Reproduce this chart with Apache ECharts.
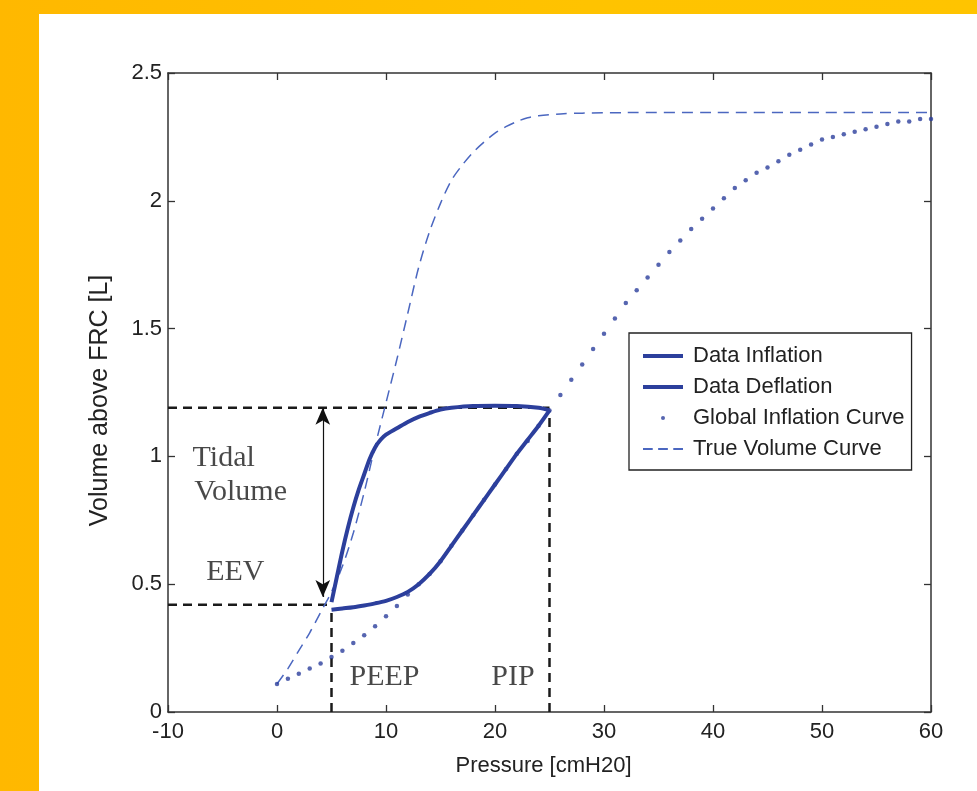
<!DOCTYPE html>
<html>
<head>
<meta charset="utf-8">
<script src="https://cdn.jsdelivr.net/npm/echarts@6/dist/echarts.min.js"></script>
<style>
  html, body { margin: 0; padding: 0; }
  #chart { width: 977px; height: 791px; background: linear-gradient(90deg, #FFB800 0%, #FFC300 60%, #FFC400 100%); }
</style>
</head>
<body>
<div id="chart"></div>
<script>
// ---------- data ----------
const xTickValues = [-10, 0, 10, 20, 30, 40, 50, 60];
const yTickValues = [0, 0.5, 1, 1.5, 2, 2.5];

// Data Inflation (lower limb of the loop, PEEP -> PIP)
const dataInflation = [
  [5, 0.40], [6, 0.405], [7, 0.41], [8, 0.417], [9, 0.425], [10, 0.435], [11, 0.45],
  [12, 0.47], [13, 0.50], [14, 0.54], [15, 0.59], [16, 0.65], [17, 0.71], [18, 0.77],
  [19, 0.83], [20, 0.89], [21, 0.95], [22, 1.01], [23, 1.065], [24, 1.12], [25, 1.18]
];

// Data Deflation (upper limb of the loop, PIP -> PEEP)
const dataDeflation = [
  [25, 1.18], [24, 1.19], [22, 1.197], [20, 1.198], [18, 1.197], [16, 1.19], [15, 1.183],
  [14, 1.17], [13, 1.155], [12, 1.135], [11, 1.11], [10, 1.085], [9.5, 1.065], [9, 1.035],
  [8.5, 0.99], [8, 0.93], [7.5, 0.87], [7, 0.80], [6.5, 0.72], [6, 0.63], [5.5, 0.53], [5, 0.43]
];

// Global Inflation Curve (dots every 1 cmH2O)
const globalInflation = [
  [0, 0.11], [1, 0.13], [2, 0.15], [3, 0.17], [4, 0.19], [5, 0.215], [6, 0.24], [7, 0.27],
  [8, 0.30], [9, 0.335], [10, 0.375], [11, 0.415], [12, 0.46], [13, 0.50], [14, 0.54],
  [15, 0.59], [16, 0.65], [17, 0.71], [18, 0.77], [19, 0.83], [20, 0.89], [21, 0.95],
  [22, 1.01], [23, 1.06], [24, 1.12], [25, 1.18], [26, 1.24], [27, 1.30], [28, 1.36],
  [29, 1.42], [30, 1.48], [31, 1.54], [32, 1.60], [33, 1.65], [34, 1.70], [35, 1.75],
  [36, 1.80], [37, 1.845], [38, 1.89], [39, 1.93], [40, 1.97], [41, 2.01], [42, 2.05],
  [43, 2.08], [44, 2.11], [45, 2.13], [46, 2.155], [47, 2.18], [48, 2.20], [49, 2.22],
  [50, 2.24], [51, 2.25], [52, 2.26], [53, 2.27], [54, 2.28], [55, 2.29], [56, 2.30],
  [57, 2.31], [58, 2.31], [59, 2.32], [60, 2.32]
];

// True Volume Curve (dashed)
const trueVolume = [
  [0, 0.11], [1, 0.17], [2, 0.24], [3, 0.31], [4, 0.39], [5, 0.47], [6, 0.57], [7, 0.70],
  [8, 0.86], [9, 1.04], [10, 1.21], [11, 1.38], [12, 1.56], [13, 1.74], [14, 1.88],
  [15, 1.99], [16, 2.08], [17, 2.14], [18, 2.19], [19, 2.23], [20, 2.265], [21, 2.29],
  [22, 2.31], [23, 2.325], [24, 2.333], [26, 2.34], [28, 2.343], [32, 2.345], [40, 2.345],
  [50, 2.345], [60, 2.345]
];

// Annotation values
const PEEP = 5, PIP = 25, EEV = 0.42, VMAX = 1.19, PEEP_LINE_TOP = 0.40, PIP_LINE_TOP = 1.18;
const arrowX = 4.2, arrowBottom = 0.45, arrowTop = 1.19;
const textLabels = [
  { name: 'Tidal',  value: [-7.7, 0.99] },
  { name: 'Volume', value: [-7.55, 0.86] },
  { name: 'EEV',    value: [-6.45, 0.545] },
  { name: 'PEEP',   value: [6.7, 0.135] },
  { name: 'PIP',    value: [19.7, 0.135] }
];
const seriesNames = ['Data Inflation', 'Data Deflation', 'Global Inflation Curve', 'True Volume Curve'];

// ---------- chart ----------
const solidBlue = '#2c3f9c';
const dashBlue = '#4b67c0';
const axisColor = '#333333';
const sans = '"Liberation Sans", Arial, Helvetica, sans-serif';
const serif = '"Liberation Serif", "Times New Roman", serif';

const chart = echarts.init(document.getElementById('chart'), null, { renderer: 'canvas' });

const axisCommon = {
  type: 'value',
  splitLine: { show: false },
  axisLine: { show: true, onZero: false, lineStyle: { color: axisColor, width: 1.5 } },
  axisTick: { show: true, inside: true, length: 7, lineStyle: { color: axisColor, width: 1.3 } }
};

const option = {
  backgroundColor: 'transparent',
  animation: false,
  graphic: {
    elements: [
      { type: 'rect', z: -100, silent: true, shape: { x: 39, y: 14, width: 938, height: 777 }, style: { fill: '#ffffff' } }
    ]
  },
  grid: { left: 168, right: 46, top: 73, bottom: 79, containLabel: false },
  xAxis: [
    Object.assign({}, axisCommon, {
      position: 'bottom', min: -10, max: 60, interval: 10,
      axisLabel: { show: true, color: '#222', fontFamily: sans, fontSize: 22, margin: 9 },
      name: 'Pressure [cmH20]', nameLocation: 'middle', nameGap: 43,
      nameTextStyle: { color: '#222', fontFamily: sans, fontSize: 22, padding: [0, 12, 0, 0] }
    }),
    Object.assign({}, axisCommon, {
      position: 'top', min: -10, max: 60, interval: 10, axisLabel: { show: false }
    })
  ],
  yAxis: [
    Object.assign({}, axisCommon, {
      position: 'left', min: 0, max: 2.5, interval: 0.5,
      axisLabel: { show: true, color: '#222', fontFamily: sans, fontSize: 22, margin: 6 },
      name: 'Volume above FRC [L]', nameLocation: 'middle', nameGap: 55, nameRotate: 90,
      nameTextStyle: { color: '#222', fontFamily: sans, fontSize: 25, padding: [0, 16, 0, 0] }
    }),
    Object.assign({}, axisCommon, {
      position: 'right', min: 0, max: 2.5, interval: 0.5, axisLabel: { show: false }
    })
  ],
  legend: {
    data: [
      { name: seriesNames[0], icon: 'rect' },
      { name: seriesNames[1], icon: 'rect' },
      { name: seriesNames[2], icon: 'circle' },
      { name: seriesNames[3], icon: 'path://M0,0h9v2h-9z M14,0h9v2h-9z M28,0h9v2h-9z' }
    ],
    orient: 'vertical',
    left: 629, top: 333,
    padding: [12, 7, 10, 14],
    itemGap: 9,
    itemWidth: 40, itemHeight: 4,
    borderColor: '#222', borderWidth: 1.3, backgroundColor: '#fff',
    selectedMode: false,
    textStyle: { color: '#222', fontFamily: sans, fontSize: 22, padding: [0, 0, 0, 5] }
  },
  series: [
    {
      name: 'Data Inflation', type: 'line', data: dataInflation, showSymbol: false, symbol: 'none',
      smooth: 0.3, z: 4,
      lineStyle: { color: solidBlue, width: 4 }, itemStyle: { color: solidBlue }
    },
    {
      name: 'Data Deflation', type: 'line', data: dataDeflation, showSymbol: false, symbol: 'none',
      smooth: 0.3, z: 4,
      lineStyle: { color: solidBlue, width: 4 }, itemStyle: { color: solidBlue }
    },
    {
      name: 'Global Inflation Curve', type: 'scatter', data: globalInflation, symbol: 'circle', symbolSize: 4.5, z: 3,
      itemStyle: { color: solidBlue }
    },
    {
      name: 'True Volume Curve', type: 'line', data: trueVolume, showSymbol: false, symbol: 'none',
      smooth: 0.3, z: 3,
      lineStyle: { color: dashBlue, width: 1.5, type: [11, 7] }, itemStyle: { color: dashBlue }
    },
    // black dashed reference lines
    {
      name: 'refTop', type: 'line', data: [[-10, VMAX], [PIP, VMAX]], symbol: 'none', silent: true, z: 2,
      lineStyle: { color: '#1a1a1a', width: 2.5, type: [9, 6] }
    },
    {
      name: 'refPIP', type: 'line', data: [[PIP, 0], [PIP, PIP_LINE_TOP]], symbol: 'none', silent: true, z: 2,
      lineStyle: { color: '#1a1a1a', width: 2.5, type: [9, 6] }
    },
    {
      name: 'refEEV', type: 'line', data: [[-10, EEV], [PEEP, EEV]], symbol: 'none', silent: true, z: 2,
      lineStyle: { color: '#1a1a1a', width: 2.5, type: [9, 6] }
    },
    {
      name: 'refPEEP', type: 'line', data: [[PEEP, 0], [PEEP, PEEP_LINE_TOP]], symbol: 'none', silent: true, z: 2,
      lineStyle: { color: '#1a1a1a', width: 2.5, type: [9, 6] }
    },
    // tidal volume double arrow
    {
      name: 'arrow', type: 'line', data: [], silent: true, z: 5,
      markLine: {
        silent: true, animation: false,
        symbol: ['arrow', 'arrow'], symbolSize: [11, 17],
        label: { show: false },
        lineStyle: { color: '#111', width: 1.2, type: 'solid' },
        itemStyle: { color: '#111' },
        data: [[{ coord: [arrowX, arrowBottom] }, { coord: [arrowX, arrowTop] }]]
      }
    },
    // text annotations
    {
      name: 'labels', type: 'scatter', data: textLabels, symbolSize: 1, silent: true, z: 6,
      itemStyle: { color: 'rgba(0,0,0,0)' },
      label: {
        show: true, formatter: p => p.name, position: [0, 0], align: 'left', verticalAlign: 'middle',
        fontFamily: serif, fontSize: 30, color: '#1a1a1a'
      }
    }
  ]
};
chart.setOption(option);
</script>
</body>
</html>
